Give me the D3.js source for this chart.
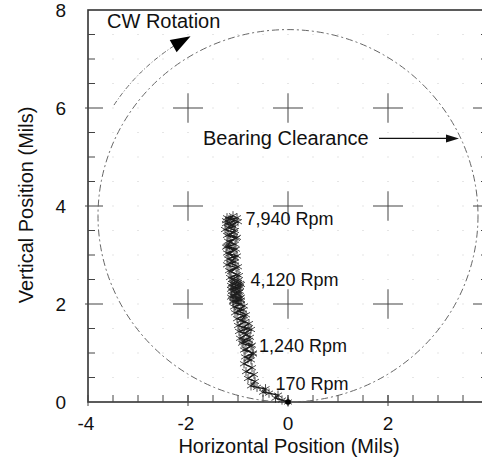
<!DOCTYPE html>
<html>
<head>
<meta charset="utf-8">
<script src="https://cdn.jsdelivr.net/npm/d3@7"></script>
<style>
  html, body { margin: 0; padding: 0; background: #fff; }
  svg text { font-family: "Liberation Sans", Arial, Helvetica, sans-serif; fill: #111; }
</style>
</head>
<body>
<div id="chart"></div>
<script>
// axis ticks
const xTicks = [-4, -2, 0, 2, 4];
const yTicks = [0, 2, 4, 6, 8];
const crossX = [-2, 0, 2];
const crossY = [2, 4, 6];

// shaft centreline orbit during run-up (x, y in mils)
const runUp = [
  [0.00, 0.00], [-0.12, 0.04], [-0.25, 0.08], [-0.20, 0.14], [-0.38, 0.18], [-0.50, 0.20],
  [-0.45, 0.27], [-0.62, 0.30], [-0.74, 0.33], [-0.66, 0.42], [-0.80, 0.48], [-0.68, 0.56],
  [-0.84, 0.62], [-0.72, 0.70], [-0.88, 0.78], [-0.74, 0.86], [-0.86, 0.92], [-0.70, 1.00],
  [-0.88, 1.06], [-0.74, 1.14], [-0.92, 1.20], [-0.78, 1.26], [-0.96, 1.30], [-0.82, 1.38],
  [-0.98, 1.44], [-0.80, 1.50], [-1.00, 1.56], [-0.86, 1.64], [-1.02, 1.70], [-0.88, 1.76],
  [-1.06, 1.82], [-0.90, 1.88], [-1.08, 1.94], [-0.94, 2.00], [-1.10, 2.06], [-0.96, 2.12],
  [-1.12, 2.18], [-0.98, 2.24], [-1.14, 2.30], [-0.96, 2.36], [-1.12, 2.42], [-1.00, 2.48],
  [-1.16, 2.54], [-1.02, 2.60], [-1.18, 2.68], [-1.04, 2.74], [-1.22, 2.80], [-1.06, 2.86],
  [-1.20, 2.92], [-1.02, 2.98], [-1.22, 3.04], [-1.08, 3.10], [-1.24, 3.16], [-1.06, 3.22],
  [-1.20, 3.28], [-1.04, 3.34], [-1.22, 3.40], [-1.08, 3.46], [-1.26, 3.52], [-1.08, 3.58],
  [-1.24, 3.64], [-1.06, 3.70], [-1.22, 3.76], [-1.10, 3.80], [-1.18, 3.72]
];

// coast-down pass
const coastDown = [
  [-1.02, 3.76], [-1.24, 3.70], [-1.12, 3.62], [-1.00, 3.68], [-1.20, 3.56], [-1.06, 3.50],
  [-1.18, 3.42], [-1.02, 3.36], [-1.16, 3.26], [-1.22, 3.18], [-1.04, 3.12], [-1.18, 3.02],
  [-1.06, 2.94], [-1.16, 2.84], [-1.00, 2.76], [-1.14, 2.66], [-0.98, 2.58], [-1.12, 2.50],
  [-1.00, 2.44], [-1.14, 2.38], [-0.98, 2.32], [-1.12, 2.26], [-1.00, 2.20], [-1.14, 2.14],
  [-0.98, 2.10], [-1.10, 2.04], [-0.94, 2.08], [-1.08, 2.16], [-0.96, 2.26], [-1.10, 2.34],
  [-0.96, 2.42], [-1.08, 2.48], [-0.94, 2.40], [-1.06, 2.28], [-0.94, 2.14], [-1.04, 2.02],
  [-0.88, 1.96], [-1.00, 1.86], [-0.84, 1.78], [-0.94, 1.66], [-0.78, 1.60], [-0.90, 1.52],
  [-0.74, 1.48], [-0.88, 1.40], [-0.76, 1.32], [-0.90, 1.24], [-0.72, 1.16], [-0.84, 1.08],
  [-0.70, 0.98], [-0.80, 0.88]
];

// speed annotations: label, anchor point (mils)
const speedLabels = ["7,940 Rpm", "4,120 Rpm", "1,240 Rpm", "170 Rpm"];
const speedX = [-0.85, -0.75, -0.58, -0.25];
const speedY = [3.62, 2.36, 1.02, 0.24];

// bearing clearance circle
const clearCenter = [0, 3.8];
const clearRadius = 3.8;

const width = 482, height = 459;
const svg = d3.select("#chart").append("svg")
  .attr("width", width).attr("height", height);

const x = d3.scaleLinear().domain([-4, 4]).range([88, 488]);
const y = d3.scaleLinear().domain([0, 8]).range([402, 10]);

// faint dot grid every half mil
const halfX = d3.range(-3.5, 4, 0.5);
const halfY = d3.range(0.5, 8, 0.5);
const dots = [];
halfX.forEach(a => halfY.forEach(b => dots.push([a, b])));
svg.append("g").selectAll("rect").data(dots).join("rect")
  .attr("x", d => x(d[0]) - 0.5).attr("y", d => y(d[1]) - 0.5)
  .attr("width", 1).attr("height", 1).attr("fill", "#ccc");

// frame
svg.append("rect")
  .attr("x", x(-4)).attr("y", y(8))
  .attr("width", x(4) - x(-4)).attr("height", y(0) - y(8))
  .attr("fill", "none").attr("stroke", "#333").attr("stroke-width", 1.6);

// inward ticks
const minorX = d3.range(-3.5, 4, 0.5);
const minorY = d3.range(0.5, 8, 0.5);
const tickG = svg.append("g").attr("stroke", "#444").attr("stroke-width", 1);
tickG.selectAll(".bt").data(minorX).join("line")
  .attr("x1", d => x(d)).attr("x2", d => x(d))
  .attr("y1", y(0)).attr("y2", y(0) - 7);
tickG.selectAll(".lt").data(minorY).join("line")
  .attr("x1", x(-4)).attr("x2", d => crossY.includes(d) ? x(-4) + 15 : x(-4) + 7)
  .attr("y1", d => y(d)).attr("y2", d => y(d));
tickG.selectAll(".ltm").data(crossY).join("line")
  .attr("x1", x(-4) - 3).attr("x2", x(-4))
  .attr("y1", d => y(d)).attr("y2", d => y(d));
tickG.selectAll(".rt").data(minorY).join("line")
  .attr("x1", x(4)).attr("x2", d => crossY.includes(d) ? x(4) - 15 : x(4) - 7)
  .attr("y1", d => y(d)).attr("y2", d => y(d));
tickG.selectAll(".btm").data(xTicks).join("line")
  .attr("x1", d => x(d)).attr("x2", d => x(d))
  .attr("y1", y(0) + 4).attr("y2", y(0) - 7);

// crosses at major grid points
const crosses = [];
crossX.forEach(a => crossY.forEach(b => crosses.push([a, b])));
const crossG = svg.append("g").attr("stroke", "#555").attr("stroke-width", 1.1);
crosses.forEach(([a, b]) => {
  crossG.append("line").attr("x1", x(a - 0.3)).attr("x2", x(a + 0.3))
    .attr("y1", y(b)).attr("y2", y(b));
  crossG.append("line").attr("x1", x(a)).attr("x2", x(a))
    .attr("y1", y(b + 0.3)).attr("y2", y(b - 0.3));
});

// tick labels
svg.append("g").selectAll("text").data(xTicks.slice(0, 4)).join("text")
  .attr("x", d => x(d) - (d < 0 ? 2 : 0)).attr("y", 430)
  .attr("text-anchor", "middle").attr("font-size", 19)
  .text(d => d);
svg.append("g").selectAll("text").data(yTicks).join("text")
  .attr("x", 66).attr("y", d => y(d) + 7)
  .attr("text-anchor", "end").attr("font-size", 19)
  .text(d => d);

// axis titles
svg.append("text")
  .attr("x", 289).attr("y", 453)
  .attr("text-anchor", "middle").attr("font-size", 20)
  .text("Horizontal Position (Mils)");
svg.append("text")
  .attr("transform", "translate(33,205) rotate(-90)")
  .attr("text-anchor", "middle").attr("font-size", 20)
  .text("Vertical Position (Mils)");

// bearing clearance circle
svg.append("ellipse")
  .attr("cx", x(clearCenter[0])).attr("cy", y(clearCenter[1]))
  .attr("rx", x(clearRadius) - x(0)).attr("ry", y(0) - y(clearRadius))
  .attr("fill", "none").attr("stroke", "#666").attr("stroke-width", 1)
  .attr("stroke-dasharray", "7,3,2,3");

// CW rotation arc + arrow
const arcR = 4.15;
const angles = d3.range(147, 121.5, -0.5).map(a => a * Math.PI / 180);
const arcPts = angles.map(t => [x(clearCenter[0] + arcR * Math.cos(t)), y(clearCenter[1] + arcR * Math.sin(t))]);
svg.append("path")
  .attr("d", d3.line()(arcPts))
  .attr("fill", "none").attr("stroke", "#666").attr("stroke-width", 1)
  .attr("stroke-dasharray", "5,2,1,2");
{
  const t0 = 122 * Math.PI / 180, t1 = 118 * Math.PI / 180;
  const p0 = [x(arcR * Math.cos(t0)), y(clearCenter[1] + arcR * Math.sin(t0))];
  const p1 = [x(arcR * Math.cos(t1)), y(clearCenter[1] + arcR * Math.sin(t1))];
  const dx = p1[0] - p0[0], dy = p1[1] - p0[1];
  const len = Math.hypot(dx, dy), ux = dx / len, uy = dy / len;
  const L = 20, W = 7;
  const base = [p1[0] - ux * L, p1[1] - uy * L];
  svg.append("path")
    .attr("d", `M${p1[0]},${p1[1]}L${base[0] - uy * W},${base[1] + ux * W}L${base[0] + uy * W},${base[1] - ux * W}Z`)
    .attr("fill", "#000");
}
svg.append("text").attr("x", 107).attr("y", 28).attr("font-size", 20).text("CW Rotation");

// bearing clearance callout
svg.append("text").attr("x", 203).attr("y", 145).attr("font-size", 20).text("Bearing Clearance");
svg.append("line")
  .attr("x1", x(1.82)).attr("x2", x(3.3))
  .attr("y1", y(5.38)).attr("y2", y(5.38))
  .attr("stroke", "#111").attr("stroke-width", 1.2);
svg.append("path")
  .attr("d", `M${x(3.42)},${y(5.38)}L${x(3.42) - 13},${y(5.38) - 4}L${x(3.42) - 13},${y(5.38) + 4}Z`)
  .attr("fill", "#111");

// orbit trace
const orbit = runUp.concat(coastDown);
const line = d3.line().x(d => x(d[0])).y(d => y(d[1]));
svg.append("path")
  .attr("d", line(orbit))
  .attr("fill", "none").attr("stroke", "#111").attr("stroke-width", 1.3);
const star = d3.symbol().type(d3.symbolAsterisk).size(60)();
svg.append("g").selectAll("path").data(orbit).join("path")
  .attr("transform", d => `translate(${x(d[0])},${y(d[1])})`)
  .attr("d", star).attr("fill", "none").attr("stroke", "#222").attr("stroke-width", 0.8);
svg.append("circle").attr("cx", x(0)).attr("cy", y(0)).attr("r", 2.8).attr("fill", "#000");

// speed labels
svg.append("g").selectAll("text").data(speedLabels).join("text")
  .attr("x", (d, i) => x(speedX[i])).attr("y", (d, i) => y(speedY[i]))
  .attr("font-size", 18)
  .text(d => d);
</script>
</body>
</html>
